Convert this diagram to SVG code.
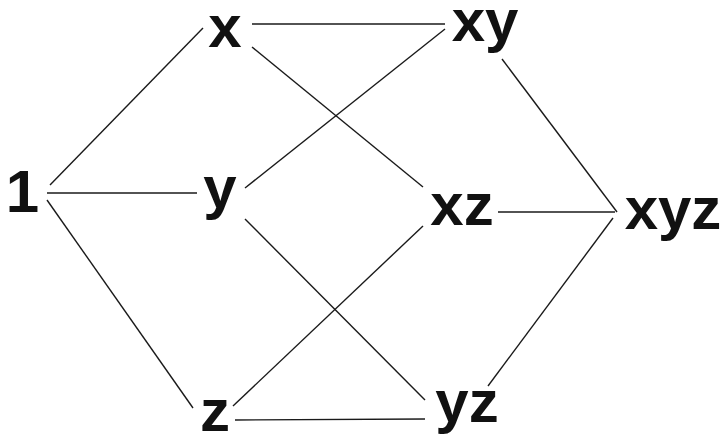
<svg xmlns="http://www.w3.org/2000/svg" width="720" height="438" viewBox="0 0 720 438">
<style>
text{font-family:"Liberation Sans",Arial,sans-serif;font-weight:bold;font-size:60px;fill:#111;text-anchor:middle}
line{stroke:#1a1a1a;stroke-width:1.4}
</style>
<rect width="720" height="438" fill="#fff"/>
<g id="connectors">
<line x1="50" y1="185" x2="203" y2="28"/>
<line x1="47" y1="193" x2="197" y2="193"/>
<line x1="47" y1="200" x2="193" y2="408"/>
<line x1="252" y1="24" x2="445" y2="24"/>
<line x1="252" y1="47" x2="423" y2="187"/>
<line x1="245" y1="188" x2="445" y2="29"/>
<line x1="245" y1="219" x2="425" y2="400"/>
<line x1="233" y1="406" x2="423" y2="226"/>
<line x1="235" y1="420" x2="425" y2="419"/>
<line x1="502" y1="59" x2="617" y2="212"/>
<line x1="498" y1="212" x2="615" y2="212"/>
<line x1="488" y1="386" x2="613" y2="218"/>
</g>
<g id="n1"><text x="22.5" y="212">1</text></g>
<g id="nx"><text x="225" y="47">x</text></g>
<g id="ny"><text x="220" y="208">y</text></g>
<g id="nz"><text x="215" y="431">z</text></g>
<g id="nxy"><text x="485" y="41">xy</text></g>
<g id="nxz"><text x="462" y="225">xz</text></g>
<g id="nyz"><text x="467" y="422">yz</text></g>
<g id="nxyz"><text x="673" y="229">xyz</text></g>
</svg>
